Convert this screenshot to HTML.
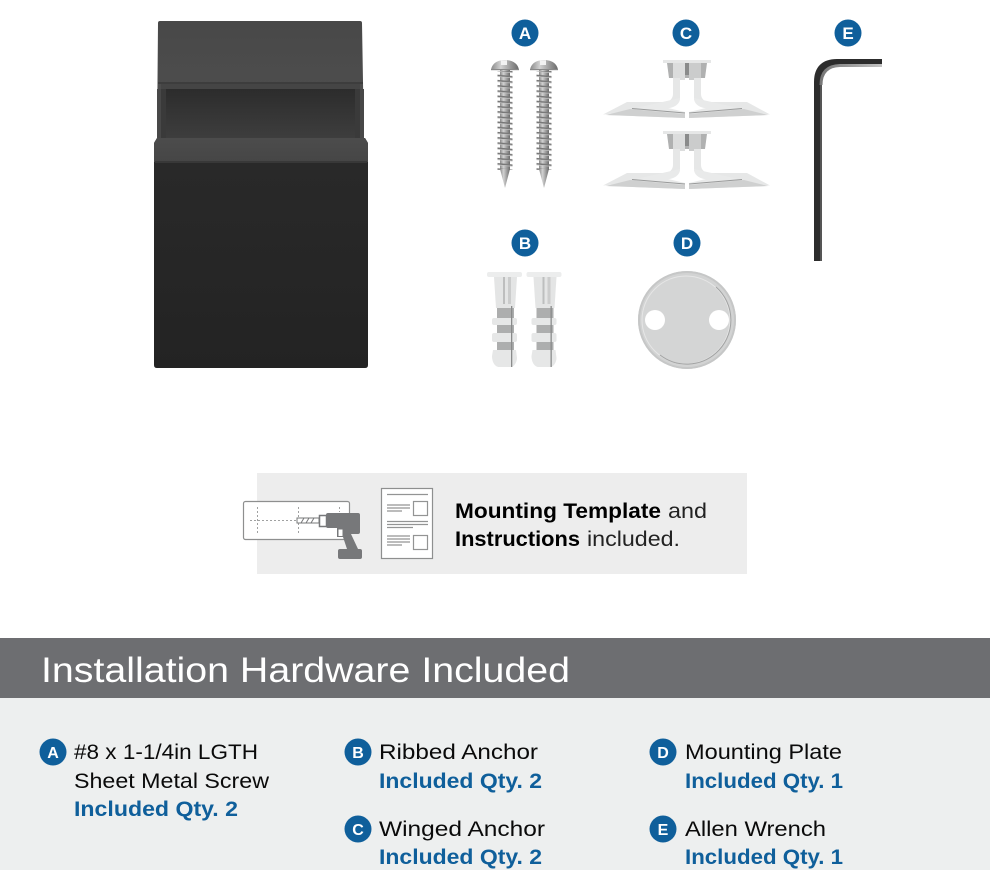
<!DOCTYPE html>
<html>
<head>
<meta charset="utf-8">
<style>
html,body{margin:0;padding:0;background:#fff}
svg{display:block}
text{font-family:"Liberation Sans",sans-serif}
.b{font-weight:bold;fill:#000}
.t{fill:#0a0a0a;font-size:21.5px}
.q{fill:#0f5f9b;font-size:21.5px;font-weight:bold}
.l{fill:#fff;font-weight:bold;text-anchor:middle}
</style>
</head>
<body>
<svg width="990" height="890" viewBox="0 0 990 890" xmlns="http://www.w3.org/2000/svg">
<defs>
<linearGradient id="top" x1="0" y1="0" x2="0" y2="1"><stop offset="0" stop-color="#484848"/><stop offset="1" stop-color="#515151"/></linearGradient>
<linearGradient id="rec" x1="0" y1="0" x2="0" y2="1"><stop offset="0" stop-color="#2c2c2c"/><stop offset="1" stop-color="#3e3e3e"/></linearGradient>
<linearGradient id="led" x1="0" y1="0" x2="0" y2="1"><stop offset="0" stop-color="#4c4c4c"/><stop offset="1" stop-color="#464646"/></linearGradient>
<linearGradient id="front" x1="0" y1="0" x2="0" y2="1"><stop offset="0" stop-color="#2a2a2a"/><stop offset="1" stop-color="#232323"/></linearGradient>
<linearGradient id="steel" x1="0" y1="0" x2="1" y2="0"><stop offset="0" stop-color="#8a8a8a"/><stop offset=".35" stop-color="#d2d2d2"/><stop offset=".7" stop-color="#9a9a9a"/><stop offset="1" stop-color="#6a6a6a"/></linearGradient>
<linearGradient id="wh" x1="0" y1="0" x2="1" y2="0"><stop offset="0" stop-color="#777"/><stop offset="1" stop-color="#c4c4c4"/></linearGradient>
<pattern id="thread" width="15" height="5.2" patternUnits="userSpaceOnUse" patternTransform="translate(0 71)">
<path d="M0 .8 L15 2.200 L15 3.800 L0 2.400Z" fill="#777"/>
<path d="M0 2.400 L15 3.800 L15 4.500 L0 3.100Z" fill="#c8c8c8"/>
</pattern>
<g id="screw">
<path d="M-14 10 C-13 3 -7 0 0 0 C7 0 13 3 14 10 Z" fill="url(#steel)"/>
<path d="M-4 0.200 H2 V5 H-4Z" fill="#f2f2f2"/>
<rect x="-14" y="9" width="28" height="1.200" fill="#888"/>
<rect x="-5" y="10" width="10" height="100" fill="url(#steel)"/>
<g transform="translate(-7.500 0)"><rect x="0" y="11" width="15" height="99" fill="url(#thread)"/></g>
<path d="M-5 109 L5 109 L0 128 Z" fill="url(#steel)"/>
</g>
<g id="wing">
<rect x="663" y="60" width="48" height="3" fill="#e6e7e7"/>
<path d="M667 63 H707 L705 78 H669Z" fill="#b0b1b1"/>
<rect x="673" y="63" width="12" height="17" fill="#dcdddd"/>
<rect x="689" y="63" width="12" height="17" fill="#cbcccc"/>
<rect x="685" y="63" width="4" height="12" fill="#8a8b8b"/>
<path d="M673 78 H680 C680 78 680 96 680 98 C680 103 676 107 668 108 L603 114.500 L627 102 H665 C670 102 673 98 673 94Z" fill="#e6e7e7"/>
<path d="M701 78 H694 V98 C694 103 698 107 706 108 L770 114.500 L747 102 H709 C704 102 701 98 701 94Z" fill="#e6e7e7"/>
<path d="M680 98 C680 104 674 108 668 108 L685 112 V118 L605 115Z" fill="#e9eaea"/>
<path d="M694 98 C694 104 700 108 706 108 L689 112 V118 L769 115Z" fill="#e9eaea"/>
<path d="M630 109 L685 114 V118 L606 115Z" fill="#cfd0d0"/>
<path d="M744 109 L689 114 V118 L768 115Z" fill="#cfd0d0"/>
<path d="M632 108.500 L685 113 M742 108.500 L689 113" stroke="#999a9a" stroke-width="1"/>
</g>
<g id="rib">
<rect x="487" y="272" width="35" height="5" rx="2" fill="#eceded"/>
<path d="M494 277 H517 L515 308 H496Z" fill="#e4e5e5"/>
<rect x="503" y="277" width="2" height="27" fill="#bdbebe"/>
<rect x="508" y="277" width="3" height="27" fill="#cbcccc"/>
<rect x="497" y="308" width="17" height="42" fill="#adaeae"/>
<rect x="492" y="318" width="25" height="7" rx="2" fill="#e6e7e7"/>
<rect x="492" y="333" width="25" height="9" rx="2" fill="#e6e7e7"/>
<path d="M493 350 H516 L517 358 C517 362 514 367 511 367 H499 C495 367 492 362 492 356Z" fill="#e6e7e7"/>
<rect x="511" y="306" width="1.300" height="61" fill="#8a8b8b"/>
</g>
</defs>

<rect width="990" height="890" fill="#fff"/>

<!-- knob -->
<path d="M160 21 H360 Q362 21 362 23 L364 140 H157 L158 23 Q158 21 160 21Z" fill="url(#top)"/>
<rect x="158" y="82" width="205" height="2" fill="#3d3d3d"/>
<rect x="161" y="84" width="199" height="5" fill="#454545"/>
<rect x="161" y="89" width="199" height="50" fill="url(#rec)"/>
<rect x="161" y="89" width="5" height="50" fill="#3a3a3a"/>
<rect x="355" y="89" width="5" height="50" fill="#3a3a3a"/>
<rect x="157" y="89" width="4" height="50" fill="#484848"/>
<rect x="360" y="89" width="4" height="50" fill="#484848"/>
<path d="M157 138 H365 L368 143 V365 Q368 368 365 368 H157 Q154 368 154 365 V143Z" fill="url(#front)"/>
<path d="M157 138 H365 L368 143 V162 H154 V143Z" fill="url(#led)"/>
<rect x="155" y="161" width="212" height="2" fill="#383838"/>

<!-- screws -->
<use href="#screw" x="505" y="60"/>
<use href="#screw" x="544" y="60"/>

<!-- winged anchors -->
<use href="#wing"/>
<use href="#wing" y="71"/>

<!-- ribbed anchors -->
<use href="#rib"/>
<use href="#rib" x="39.500"/>

<!-- plate -->
<circle cx="687" cy="320" r="49" fill="#d2d3d3"/>
<circle cx="687" cy="320" r="48" fill="none" stroke="#c6c7c7" stroke-width="2"/>
<circle cx="686" cy="320" r="44" fill="#d4d5d5" stroke="#e6e6e6" stroke-width="1"/>
<path d="M716 287 A44 44 0 0 1 716 353 A44 44 0 0 1 660 355" fill="none" stroke="#a2a3a3" stroke-width="1"/>
<circle cx="655" cy="320" r="10" fill="#fff"/>
<circle cx="719" cy="320" r="10" fill="#fff"/>

<!-- wrench -->
<path d="M818 261 V82 Q818 63 837 63 H882" fill="none" stroke="#2c2c2c" stroke-width="8"/>
<path d="M821 261 V85" fill="none" stroke="#555" stroke-width="2"/>
<path d="M821 85 Q821 66 840 65.500 H882" fill="none" stroke="url(#wh)" stroke-width="3"/>

<!-- mounting panel -->
<rect x="257" y="473" width="490" height="101" fill="#ededed"/>
<rect x="243.500" y="501.500" width="106" height="38" rx="2" fill="#fff" stroke="#8e8f8f" stroke-width="1.200"/>
<g stroke="#a0a1a1" stroke-width="1" stroke-dasharray="2 2" fill="none">
<path d="M250 520.500 H296"/><path d="M257.500 507 V534"/><path d="M298.500 507 V534"/><path d="M339.500 507 V512"/>
</g>
<rect x="297" y="518" width="22" height="5" fill="#fff" stroke="#77787a" stroke-width="1"/>
<path d="M301 523 L304 518 M306 523 L309 518 M311 523 L314 518" stroke="#77787a" stroke-width="1"/>
<rect x="319.500" y="515.500" width="7" height="11" fill="#fff" stroke="#77787a" stroke-width="1.500"/>
<path d="M328 513 H358 Q360 513 360 515 V532 Q360 534 358 534 H351 L358 549 H360 Q362 549 362 551 V557 Q362 559 360 559 H340 Q338 559 338 557 V551 Q338 549 340 549 H347 L343 537 H337 V528 H328 Q326 528 326 526 V515 Q326 513 328 513Z" fill="#77787a"/>
<rect x="338.500" y="529.500" width="4" height="6.500" fill="#fff"/>
<rect x="381.500" y="488.500" width="51" height="70" fill="#fff" stroke="#8e8f8f" stroke-width="1.200"/>
<g stroke="#939494" stroke-width="1.200" fill="none">
<path d="M387 494.500 H428"/>
<path d="M387 505 H410 M387 508 H410 M387 511 H402"/>
<rect x="413.500" y="501.500" width="14" height="14"/>
<path d="M387 521.500 H428 M387 524.500 H428 M387 527.500 H413"/>
<path d="M387 536 H410 M387 539 H410 M387 542 H410 M387 545 H402"/>
<rect x="413.500" y="535.500" width="14" height="14"/>
</g>
<text x="455" y="518" font-size="21.500" class="b" textLength="206" lengthAdjust="spacingAndGlyphs">Mounting Template</text>
<text x="668" y="518" font-size="21.500" fill="#222" textLength="39" lengthAdjust="spacingAndGlyphs">and</text>
<text x="455" y="546" font-size="21.500" class="b" textLength="125" lengthAdjust="spacingAndGlyphs">Instructions</text>
<text x="587" y="546" font-size="21.500" fill="#222" textLength="93" lengthAdjust="spacingAndGlyphs">included.</text>

<!-- bottom -->
<rect x="0" y="638" width="990" height="60" fill="#6d6e71"/>
<rect x="0" y="698" width="990" height="172" fill="#edefef"/>
<text x="41" y="682" font-size="35" fill="#fff" textLength="529" lengthAdjust="spacingAndGlyphs">Installation Hardware Included</text>

<text class="t" x="74" y="759" textLength="184" lengthAdjust="spacingAndGlyphs">#8 x 1-1/4in LGTH</text>
<text class="t" x="74" y="788" textLength="195" lengthAdjust="spacingAndGlyphs">Sheet Metal Screw</text>
<text class="q" x="74" y="816" textLength="164" lengthAdjust="spacingAndGlyphs">Included Qty. 2</text>

<text class="t" x="379" y="759" textLength="159" lengthAdjust="spacingAndGlyphs">Ribbed Anchor</text>
<text class="q" x="379" y="788" textLength="163" lengthAdjust="spacingAndGlyphs">Included Qty. 2</text>
<text class="t" x="379" y="836" textLength="166" lengthAdjust="spacingAndGlyphs">Winged Anchor</text>
<text class="q" x="379" y="864" textLength="163" lengthAdjust="spacingAndGlyphs">Included Qty. 2</text>

<text class="t" x="685" y="759" textLength="157" lengthAdjust="spacingAndGlyphs">Mounting Plate</text>
<text class="q" x="685" y="788" textLength="158" lengthAdjust="spacingAndGlyphs">Included Qty. 1</text>
<text class="t" x="685" y="836" textLength="141" lengthAdjust="spacingAndGlyphs">Allen Wrench</text>
<text class="q" x="685" y="864" textLength="158" lengthAdjust="spacingAndGlyphs">Included Qty. 1</text>

<!-- badges -->
<g fill="#0f5f9b">
<circle cx="525" cy="33" r="13.500"/><circle cx="686" cy="33" r="13.500"/><circle cx="848" cy="33" r="13.500"/>
<circle cx="525" cy="243" r="13.500"/><circle cx="687" cy="243" r="13.500"/>
<circle cx="53" cy="752" r="13.500"/><circle cx="358" cy="752" r="13.500"/><circle cx="358" cy="829" r="13.500"/>
<circle cx="663" cy="752" r="13.500"/><circle cx="663" cy="829" r="13.500"/>
</g>
<text class="l" x="525" y="39" font-size="17">A</text><text class="l" x="686" y="39" font-size="17">C</text><text class="l" x="848" y="39" font-size="17">E</text>
<text class="l" x="525" y="249" font-size="17">B</text><text class="l" x="687" y="249" font-size="17">D</text>
<text class="l" x="53" y="758" font-size="16">A</text><text class="l" x="358" y="758" font-size="16">B</text><text class="l" x="358" y="835" font-size="16">C</text>
<text class="l" x="663" y="758" font-size="16">D</text><text class="l" x="663" y="835" font-size="16">E</text>
</svg>
</body>
</html>
